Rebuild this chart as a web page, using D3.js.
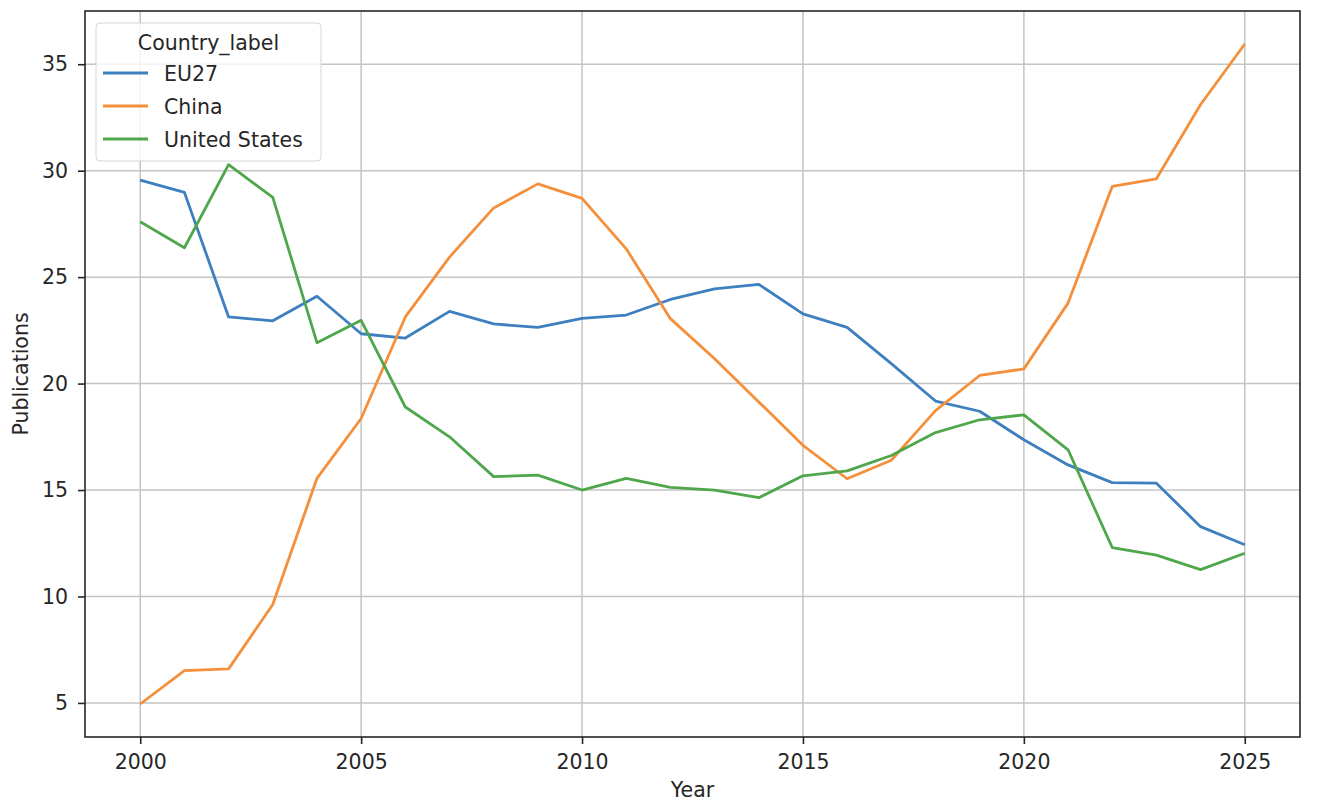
<!DOCTYPE html>
<html lang="en">
<head>
    <meta charset="UTF-8">
    <title>Publications by country</title>
    <script src="https://cdnjs.cloudflare.com/ajax/libs/d3/7.8.5/d3.min.js"></script>
    <style>
        body {
            margin: 0;
            padding: 0;
            background-color: #fff;
            font-family: "DejaVu Sans", sans-serif;
        }
        .axis text {
            font-family: "DejaVu Sans", sans-serif;
            font-size: 20.5px;
            fill: #262626;
        }
        .axis line, .axis path {
            stroke: #262626;
        }
        .grid line {
            stroke: #c4c4c4;
            stroke-width: 1.5px;
        }
    </style>
</head>
<body>
    <div id="chart"></div>

    <script>
        // Data
        const years = [2000, 2001, 2002, 2003, 2004, 2005, 2006, 2007, 2008, 2009, 2010, 2011, 2012,
                       2013, 2014, 2015, 2016, 2017, 2018, 2019, 2020, 2021, 2022, 2023, 2024, 2025];
        const eu27 = [29.56, 28.98, 23.13, 22.95, 24.1, 22.34, 22.14, 23.39, 22.8, 22.64, 23.06, 23.22, 23.95,
                      24.45, 24.66, 23.27, 22.64, 20.94, 19.18, 18.7, 17.36, 16.18, 15.35, 15.32, 13.28, 12.43];
        const china = [4.95, 6.52, 6.6, 9.62, 15.55, 18.36, 23.13, 25.94, 28.25, 29.38, 28.7, 26.33, 23.05,
                       21.17, 19.14, 17.1, 15.53, 16.4, 18.73, 20.38, 20.69, 23.78, 29.26, 29.62, 33.11, 35.95];
        const unitedStates = [27.6, 26.38, 30.28, 28.75, 21.92, 22.97, 18.9, 17.5, 15.63, 15.7, 15.0, 15.55, 15.12,
                              15.0, 14.64, 15.67, 15.9, 16.62, 17.7, 18.3, 18.53, 16.89, 12.3, 11.94, 11.26, 12.03];
        const seriesNames = ["EU27", "China", "United States"];
        const xTicks = [2000, 2005, 2010, 2015, 2020, 2025];
        const yTicks = [5, 10, 15, 20, 25, 30, 35];

        const seriesColors = ["#3d7fbf", "#f48f3c", "#4fa64b"];
        const series = [eu27, china, unitedStates].map((vals, i) => ({
            name: seriesNames[i],
            color: seriesColors[i],
            values: vals.map((v, j) => ({ year: years[j], value: v }))
        }));

        // Set up dimensions
        const width = 1319;
        const height = 809;
        const margin = { top: 11, right: 19, bottom: 72, left: 85 };
        const innerW = width - margin.left - margin.right;
        const innerH = height - margin.top - margin.bottom;

        const svg = d3.select("#chart")
            .append("svg")
            .attr("width", width)
            .attr("height", height);

        const g = svg.append("g")
            .attr("transform", `translate(${margin.left},${margin.top})`);

        // matplotlib-style 5% margins
        const xExt = d3.extent(years);
        const xPad = (xExt[1] - xExt[0]) * 0.05;
        const allVals = eu27.concat(china, unitedStates);
        const yExt = d3.extent(allVals);
        const yPad = (yExt[1] - yExt[0]) * 0.05;

        const x = d3.scaleLinear()
            .domain([xExt[0] - xPad, xExt[1] + xPad])
            .range([0, innerW]);
        const y = d3.scaleLinear()
            .domain([yExt[0] - yPad, yExt[1] + yPad])
            .range([innerH, 0]);

        // Grid
        g.append("g")
            .attr("class", "grid")
            .selectAll("line.v")
            .data(xTicks)
            .enter().append("line")
            .attr("x1", d => x(d)).attr("x2", d => x(d))
            .attr("y1", 0).attr("y2", innerH);
        g.append("g")
            .attr("class", "grid")
            .selectAll("line.h")
            .data(yTicks)
            .enter().append("line")
            .attr("x1", 0).attr("x2", innerW)
            .attr("y1", d => y(d)).attr("y2", d => y(d));

        // Lines
        const line = d3.line()
            .x(d => x(d.year))
            .y(d => y(d.value));

        g.selectAll("path.series")
            .data(series)
            .enter().append("path")
            .attr("class", "series")
            .attr("fill", "none")
            .attr("stroke", d => d.color)
            .attr("stroke-width", 2.8)
            .attr("stroke-linejoin", "round")
            .attr("d", d => line(d.values));

        // Axes
        const xAxis = g.append("g")
            .attr("class", "axis")
            .attr("transform", `translate(0,${innerH})`)
            .call(d3.axisBottom(x).tickValues(xTicks).tickFormat(d3.format("d"))
                .tickSizeInner(7).tickSizeOuter(0).tickPadding(10));
        const yAxis = g.append("g")
            .attr("class", "axis")
            .call(d3.axisLeft(y).tickValues(yTicks)
                .tickSizeInner(7).tickSizeOuter(0).tickPadding(10));
        g.selectAll(".axis .domain").remove();
        g.selectAll(".axis .tick line").attr("stroke-width", 1.6);

        // Spines
        g.append("rect")
            .attr("x", 0).attr("y", 0)
            .attr("width", innerW).attr("height", innerH)
            .attr("fill", "none")
            .attr("stroke", "#262626")
            .attr("stroke-width", 1.6);

        // Axis labels
        svg.append("text")
            .attr("x", margin.left + innerW / 2)
            .attr("y", 797)
            .attr("text-anchor", "middle")
            .style("font-size", "20.5px")
            .style("fill", "#262626")
            .text("Year");
        svg.append("text")
            .attr("transform", `translate(28,${margin.top + innerH / 2}) rotate(-90)`)
            .attr("text-anchor", "middle")
            .style("font-size", "20.5px")
            .style("fill", "#262626")
            .text("Publications");

        // Legend
        const legend = svg.append("g").attr("transform", "translate(96,23)");
        legend.append("rect")
            .attr("width", 225).attr("height", 138)
            .attr("rx", 4)
            .attr("fill", "#fff").attr("fill-opacity", 0.8)
            .attr("stroke", "#d6d6d6");
        legend.append("text")
            .attr("x", 112.5).attr("y", 26.5)
            .attr("text-anchor", "middle")
            .style("font-size", "20.5px")
            .style("fill", "#262626")
            .text("Country_label");
        const item = legend.selectAll("g.item")
            .data(series)
            .enter().append("g")
            .attr("class", "item")
            .attr("transform", (d, i) => `translate(0,${50 + i * 33})`);
        item.append("line")
            .attr("x1", 7).attr("x2", 52)
            .attr("stroke", d => d.color)
            .attr("stroke-width", 2.8);
        item.append("text")
            .attr("x", 68).attr("y", 8)
            .style("font-size", "20.5px")
            .style("fill", "#262626")
            .text(d => d.name);
    </script>
</body>
</html>
